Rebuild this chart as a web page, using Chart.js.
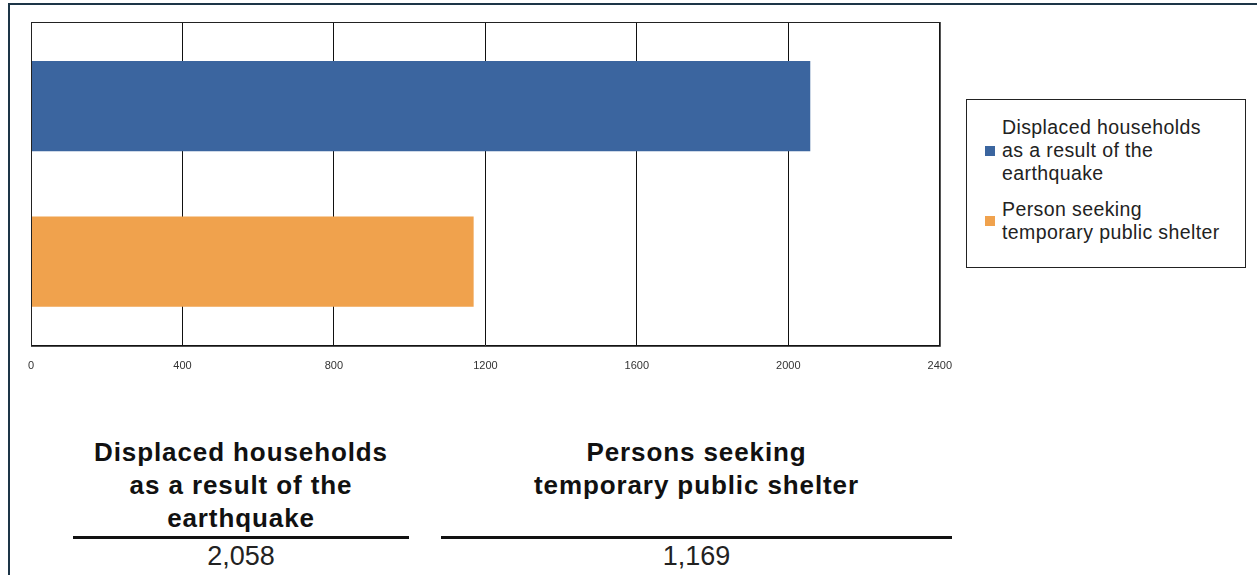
<!DOCTYPE html>
<html lang="en">

<head>
    <meta charset="UTF-8">
    <title>Displaced households and persons seeking shelter</title>
    <style>
        body {
            margin: 0;
            width: 1257px;
            height: 575px;
            background: #fff;
            font-family: Arial, 'Liberation Sans', sans-serif;
            position: relative;
            overflow: hidden;
        }

        .frame {
            position: absolute;
            left: 8px;
            top: 3px;
            width: 1260px;
            height: 600px;
            border-top: 2px solid #1d3547;
            border-left: 2px solid #1d3547;
        }

        .chart-box {
            position: absolute;
            left: 0;
            top: 0;
            width: 966px;
            height: 389px;
        }

        .legend {
            position: absolute;
            left: 966px;
            top: 99px;
            width: 278px;
            height: 167px;
            border: 1px solid #222;
            box-sizing: content-box;
        }

        .legend-item {
            position: absolute;
            left: 18px;
            display: flex;
            align-items: center;
            font-size: 19.5px;
            letter-spacing: 0.4px;
            line-height: 23px;
            color: #222;
            white-space: nowrap;
        }

        .legend-item span.swatch {
            width: 10px;
            height: 10px;
            margin-right: 7px;
            flex: none;
        }

        .summary {
            position: absolute;
            top: 436px;
            text-align: center;
        }

        .summary h3 {
            margin: 0;
            font-size: 26px;
            letter-spacing: 0.9px;
            line-height: 33px;
            font-weight: bold;
            color: #111;
            height: 100px;
            white-space: nowrap;
        }

        .summary .rule {
            border-top: 3px solid #111;
        }

        .summary .num {
            font-size: 27px;
            line-height: 34px;
            color: #222;
        }
    </style>
</head>

<body>
    <div class="frame"></div>
    <div class="chart-box">
        <canvas id="shelterChart"></canvas>
    </div>
    <div class="legend" id="legend"></div>
    <div id="summaries"></div>

    <script src="https://cdn.jsdelivr.net/npm/chart.js"></script>
    <script>
        // data
        const seriesNames = [
            ['Displaced households', 'as a result of the', 'earthquake'],
            ['Person seeking', 'temporary public shelter']
        ];
        const seriesValues = [2058, 1169];
        const seriesColors = ['#3b659f', '#f0a24d'];
        const xTicks = [0, 400, 800, 1200, 1600, 2000, 2400];

        const summaryTitles = [
            ['Displaced households', 'as a result of the', 'earthquake'],
            ['Persons seeking', 'temporary public shelter']
        ];

        // outline round the plot area (top and right edges)
        const plotFrame = {
            id: 'plotFrame',
            afterDraw(chart) {
                const a = chart.chartArea;
                const ctx = chart.ctx;
                ctx.save();
                ctx.strokeStyle = '#222';
                ctx.lineWidth = 1;
                ctx.strokeRect(a.left + 0.5, a.top + 0.5, a.right - a.left, a.bottom - a.top);
                ctx.restore();
            }
        };

        const ctx = document.getElementById('shelterChart').getContext('2d');
        const chart = new Chart(ctx, {
            type: 'bar',
            data: {
                labels: [''],
                datasets: seriesValues.map((v, i) => ({
                    label: seriesNames[i].join(' '),
                    data: [v],
                    backgroundColor: seriesColors[i],
                    borderWidth: 0,
                    categoryPercentage: 0.96,
                    barPercentage: 0.58
                }))
            },
            options: {
                indexAxis: 'y',
                responsive: true,
                maintainAspectRatio: false,
                animation: false,
                layout: {
                    padding: { left: 23, top: 22, right: 16, bottom: 2 }
                },
                plugins: {
                    legend: { display: false },
                    tooltip: { enabled: false }
                },
                scales: {
                    x: {
                        min: 0,
                        max: 2400,
                        afterBuildTicks: axis => {
                            axis.ticks = xTicks.map(v => ({ value: v }));
                        },
                        grid: {
                            color: '#111',
                            lineWidth: 1,
                            drawTicks: false
                        },
                        border: { color: '#111' },
                        ticks: {
                            padding: 14,
                            maxRotation: 0,
                            color: '#333',
                            font: { family: 'Arial', size: 11 },
                            callback: v => String(v)
                        }
                    },
                    y: {
                        grid: { display: false },
                        border: { color: '#111' },
                        ticks: { display: false }
                    }
                }
            },
            plugins: [plotFrame]
        });

        // legend, drawn from the chart's datasets
        const legendEl = document.getElementById('legend');
        const itemTops = [16, 98];
        chart.data.datasets.forEach((ds, i) => {
            const item = document.createElement('div');
            item.className = 'legend-item';
            item.style.top = itemTops[i] + 'px';
            const sw = document.createElement('span');
            sw.className = 'swatch';
            sw.style.background = ds.backgroundColor;
            const txt = document.createElement('div');
            txt.innerHTML = seriesNames[i].join('<br>');
            item.appendChild(sw);
            item.appendChild(txt);
            legendEl.appendChild(item);
        });

        // summary figures under the chart
        const summaryBoxes = [
            { left: 73, width: 336 },
            { left: 441, width: 511 }
        ];
        const sumEl = document.getElementById('summaries');
        summaryTitles.forEach((lines, i) => {
            const box = document.createElement('div');
            box.className = 'summary';
            box.style.left = summaryBoxes[i].left + 'px';
            box.style.width = summaryBoxes[i].width + 'px';
            box.innerHTML =
                '<h3>' + lines.map(l => '<div>' + l + '</div>').join('') + '</h3>' +
                '<div class="rule"></div>' +
                '<div class="num">' + seriesValues[i].toLocaleString('en-US') + '</div>';
            sumEl.appendChild(box);
        });
    </script>
</body>

</html>
